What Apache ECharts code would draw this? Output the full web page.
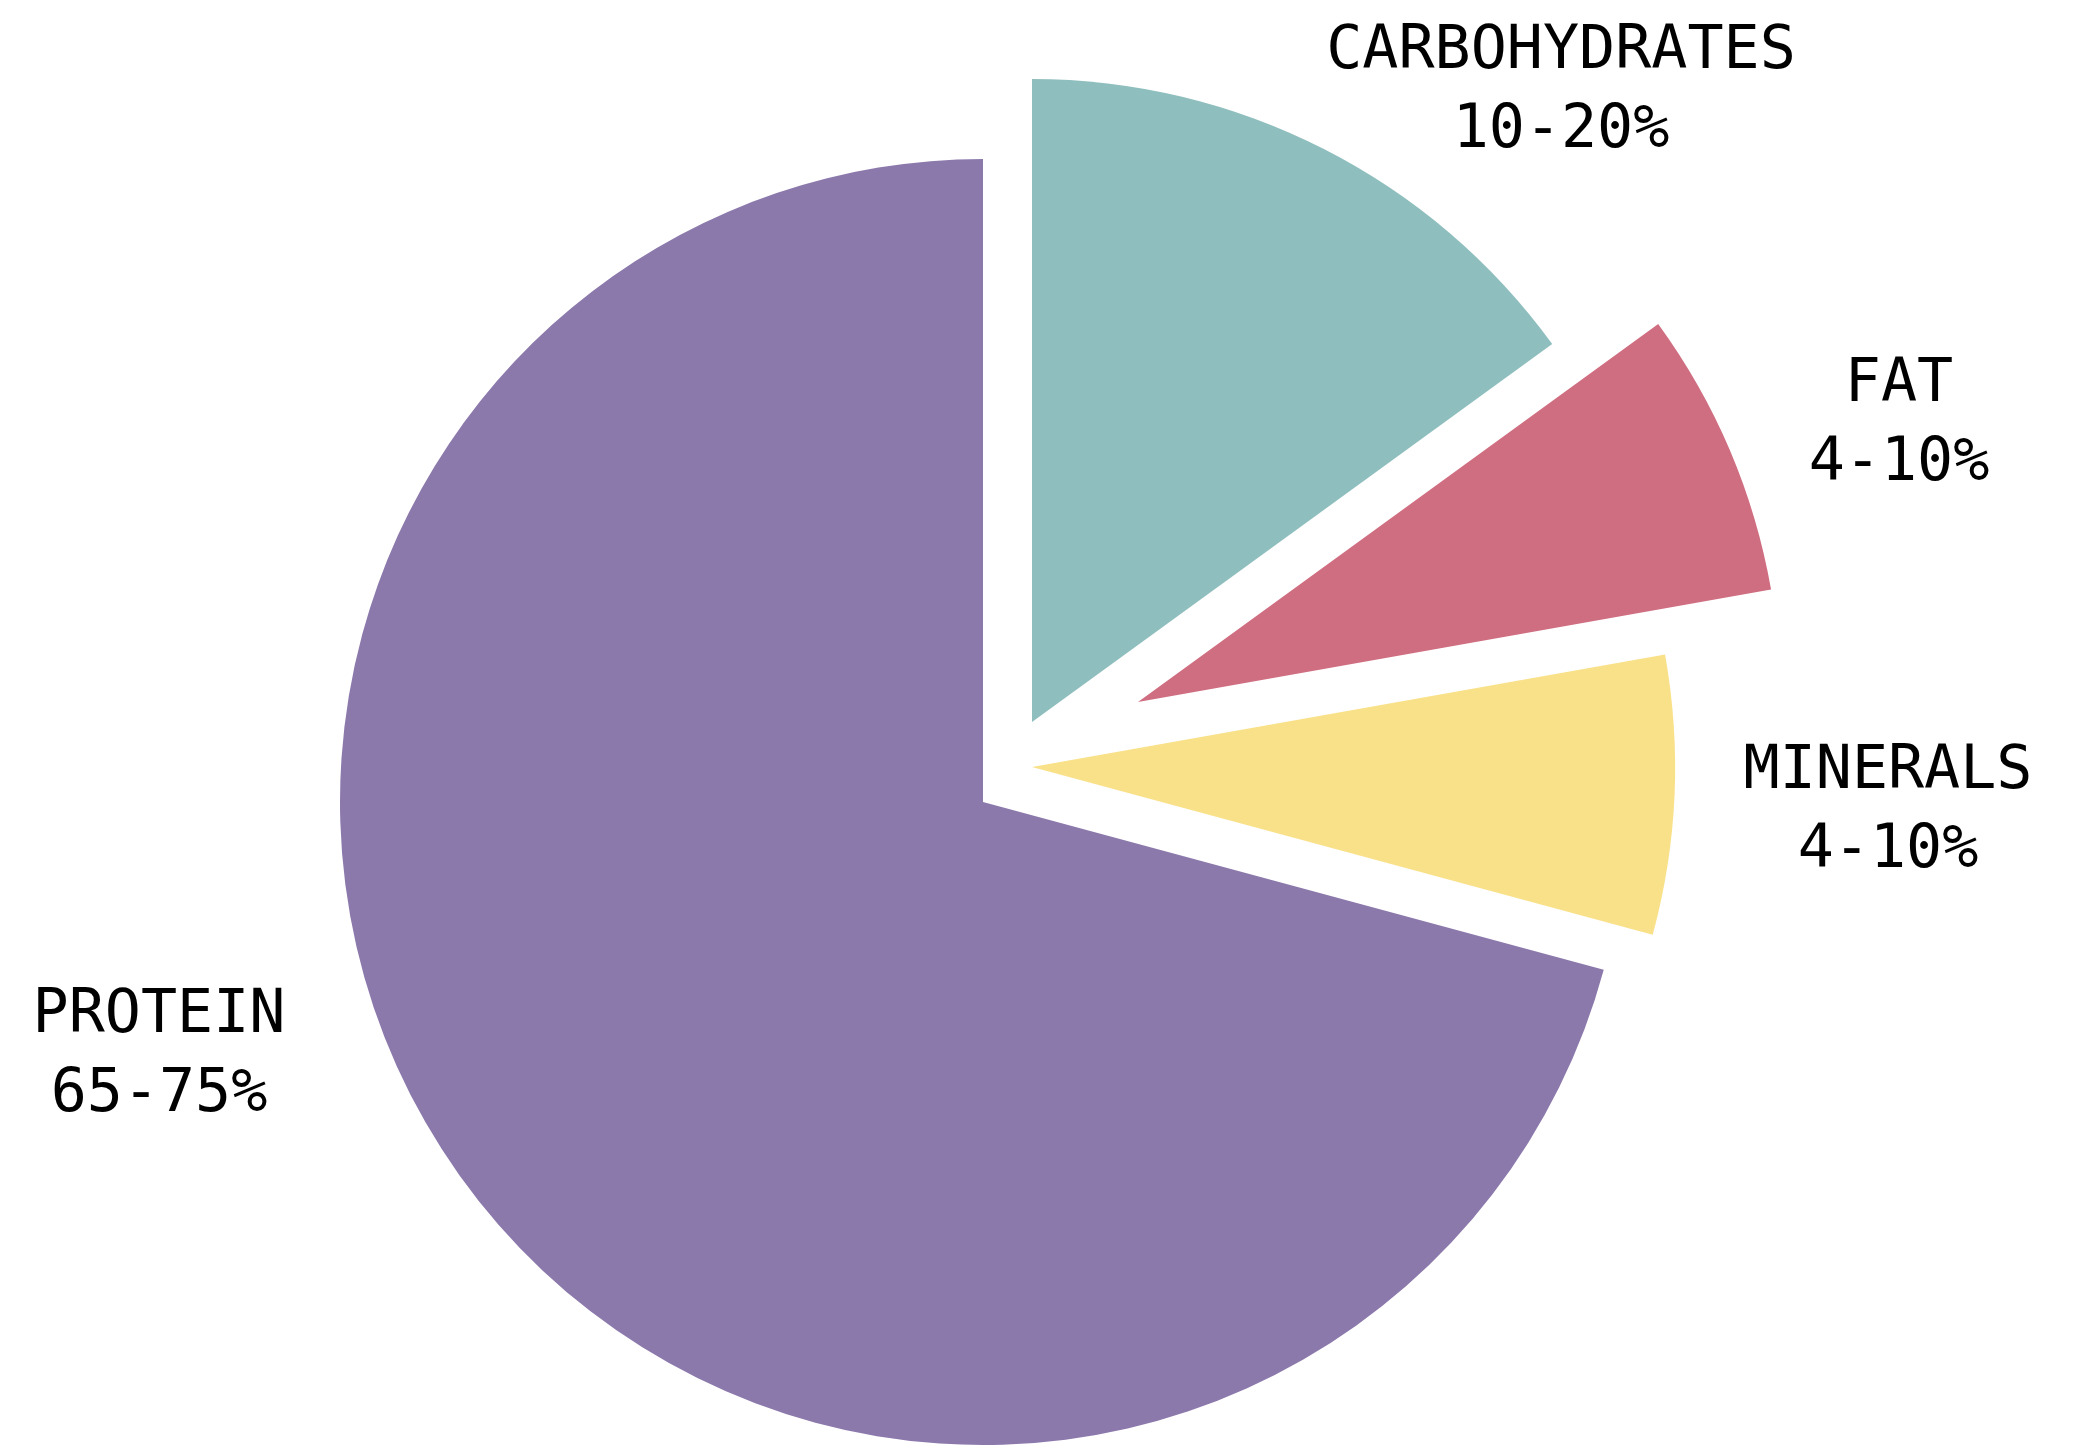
<!DOCTYPE html>
<html>
<head>
<meta charset="utf-8">
<script src="https://cdn.jsdelivr.net/npm/echarts@6/dist/echarts.min.js"></script>
<style>html,body{margin:0;padding:0;background:#fff;}#c{width:2074px;height:1454px;}</style>
</head>
<body>
<div id="c"></div>
<script>
// Data
const categories = ['CARBOHYDRATES', 'FAT', 'MINERALS', 'PROTEIN'];
const values = [15, 7.2, 7, 70.8];
const rangeLabels = ['10-20%', '4-10%', '4-10%', '65-75%'];
const colors = ['#8EBEBD', '#D06E81', '#F9E18A', '#8C79AC'];

// Layout (explode offsets per slice, label anchors)
const baseCenter = [983, 802];
const radius = 643;
const offsets = [[49, -80], [155, -100], [49, -35], [0, 0]];
const labelAnchors = [[1561, 92], [1899, 425], [1888, 812], [159, 1056]];

const chart = echarts.init(document.getElementById('c'), null, {renderer: 'canvas'});

const series = categories.map((cat, si) => ({
  type: 'pie',
  center: [baseCenter[0] + offsets[si][0], baseCenter[1] + offsets[si][1]],
  radius: radius,
  startAngle: 90,
  clockwise: true,
  avoidLabelOverlap: false,
  animation: false,
  silent: true,
  z: si === 3 ? 1 : 2,
  labelLine: {show: false},
  labelLayout: function () {
    return {x: labelAnchors[si][0], y: labelAnchors[si][1], align: 'center', verticalAlign: 'middle'};
  },
  data: categories.map((name, i) => ({
    name: name,
    value: values[i],
    itemStyle: {color: i === si ? colors[i] : 'rgba(0,0,0,0)'},
    label: {
      show: i === si,
      position: 'outside',
      formatter: () => name + '\n' + rangeLabels[i],
      fontFamily: '"DejaVu Sans Mono", monospace',
      fontSize: 60,
      lineHeight: 79,
      color: '#000',
      align: 'center'
    }
  }))
}));

chart.setOption({
  backgroundColor: '#ffffff',
  animation: false,
  series: series
});
</script>
</body>
</html>
